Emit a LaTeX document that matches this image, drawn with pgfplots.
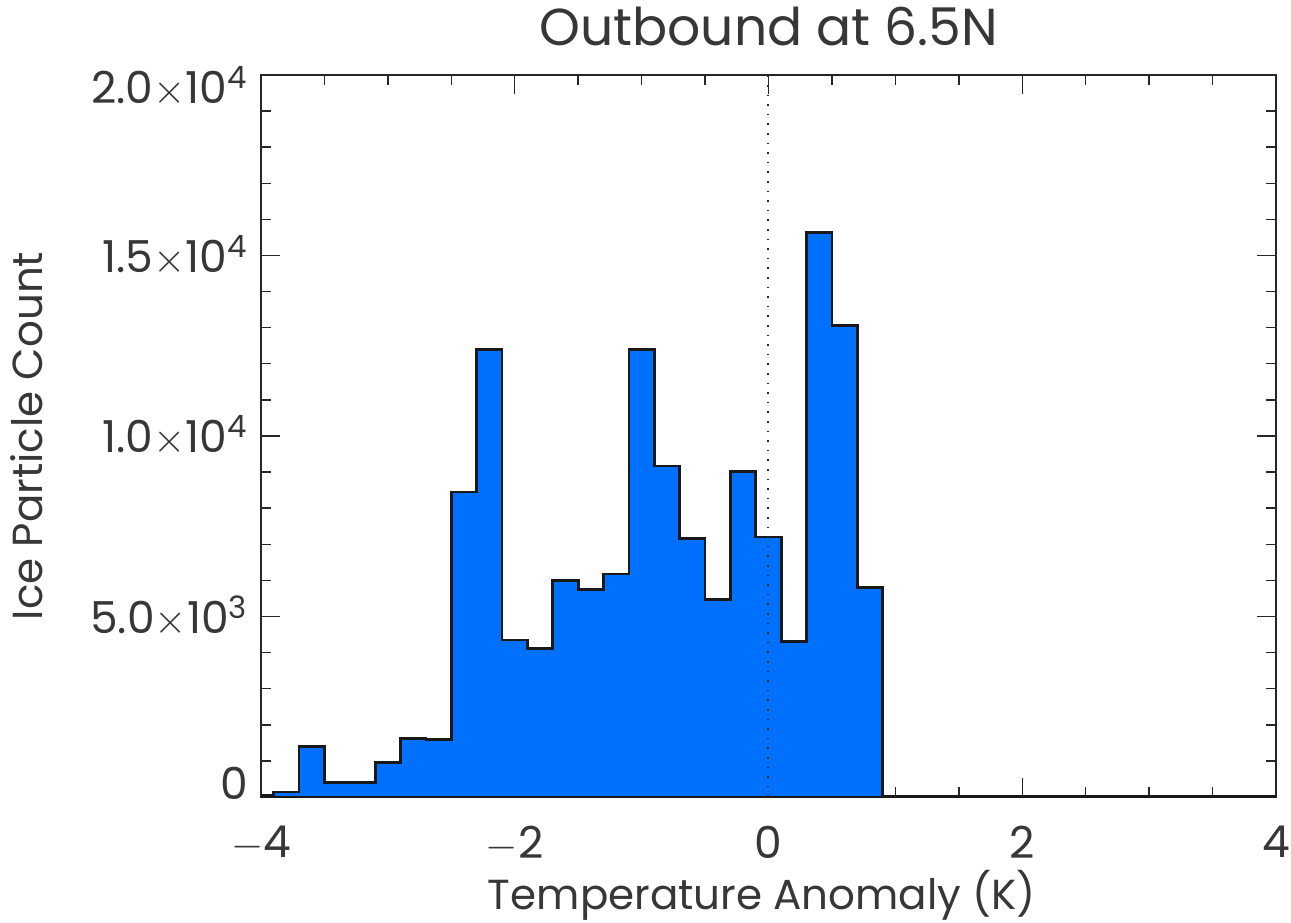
\documentclass[border=0pt]{standalone}
\usepackage{fontspec}
\setmainfont{Poppins}
\usepackage{pgfplots}
\pgfplotsset{compat=1.18}
\definecolor{histblue}{RGB}{0,112,255}
\definecolor{txt}{RGB}{55,55,55}
\begin{document}
\begin{tikzpicture}
\path[use as bounding box] (0,0) rectangle (645.5pt,461pt);
\begin{axis}[
  at={(130.5pt,62.5pt)}, anchor=south west,
  scale only axis, width=507.5pt, height=361pt,
  xmin=-4, xmax=4, ymin=0, ymax=20000,
  axis line style={line width=0.8pt, black!85},
  xtick={-4,-2,0,2,4},
  xticklabels={{$-$4},{$-$2},0,2,4},
  minor x tick num=3,
  ytick={0,5000,10000,15000,20000},
  yticklabels={{\raisebox{7pt}[\height][\depth]{0}},{5.0$\times$10\textsuperscript{3}},{1.0$\times$10\textsuperscript{4}},{1.5$\times$10\textsuperscript{4}},{\raisebox{-6pt}[\height][\depth]{2.0$\times$10\textsuperscript{4}}}},
  minor y tick num=4,
  scaled y ticks=false,
  tick align=inside,
  major tick length=9.5pt, minor tick length=5pt,
  tick style={line width=0.7pt, black!85},
  ticklabel style={font=\fontsize{22}{26}\selectfont, text=txt},
  xticklabel style={yshift=-11pt},
  yticklabel style={xshift=-3pt},
  title={Outbound at 6.5N},
  title style={at={(axis description cs:0.5,1.051)}, anchor=center, font=\fontsize{26}{30}\selectfont, text=txt},
  xlabel={Temperature Anomaly (K)},
  xlabel style={at={(axis description cs:0.4935,-0.1357)}, anchor=center, font=\fontsize{21}{25}\selectfont, text=txt},
  ylabel={Ice Particle Count},
  ylabel style={at={(axis description cs:-0.231,0.5)}, anchor=center, rotate=0, font=\fontsize{21}{25}\selectfont, text=txt},
]
\addplot[const plot mark left, fill=histblue, draw=black!90, line width=1.4pt] coordinates {
(-4.0,50) (-3.9,140) (-3.7,1400) (-3.5,400) (-3.3,400) (-3.1,950)
(-2.9,1620) (-2.7,1600) (-2.5,8450) (-2.3,12390) (-2.1,4350) (-1.9,4120)
(-1.7,6000) (-1.5,5750) (-1.3,6180) (-1.1,12390) (-0.9,9170) (-0.7,7150)
(-0.5,5460) (-0.3,9020) (-0.1,7200) (0.1,4310) (0.3,15640) (0.5,13070)
(0.7,5800) (0.9,30) (1.1,30) (1.3,30) (1.5,30) (1.7,30) (1.9,30) (2.1,30)
(2.3,30) (2.5,30) (2.7,30) (2.9,30) (3.1,30) (3.3,30) (3.5,30) (3.7,30)
(3.9,30) (4.0,30)
} \closedcycle;
\addplot[dash pattern=on 0.8pt off 4pt, line width=1pt, black!85] coordinates {(0,0) (0,20000)};
\end{axis}
\end{tikzpicture}
\end{document}
